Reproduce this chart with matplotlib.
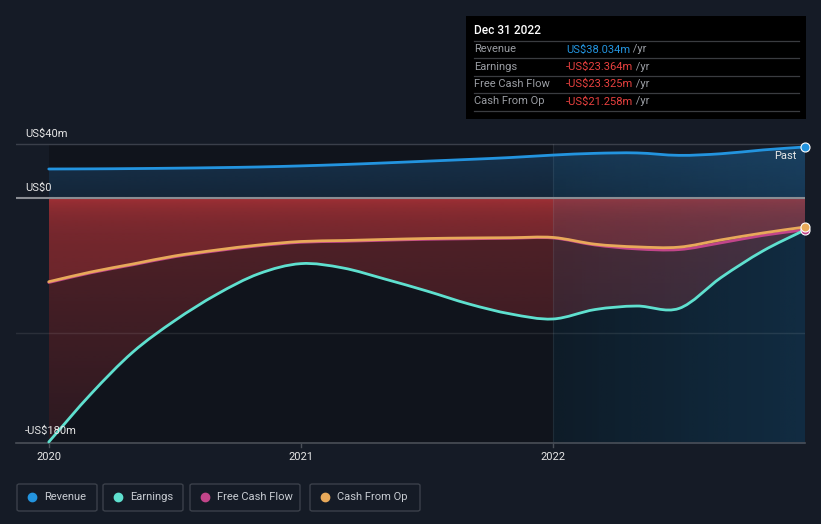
import numpy as np
import matplotlib
matplotlib.use("Agg")
import matplotlib.pyplot as plt
from matplotlib.patches import FancyBboxPatch, Rectangle, PathPatch
from matplotlib.path import Path
from matplotlib.lines import Line2D

plt.rcParams["font.family"] = ["Roboto", "DejaVu Sans"]

# ---- data (US$m, trailing twelve months) ----
years = [2020.000, 2020.167, 2020.333, 2020.500, 2020.667, 2020.833,
         2021.000, 2021.167, 2021.333, 2021.500, 2021.667, 2021.833,
         2022.000, 2022.167, 2022.333, 2022.500, 2022.667, 2022.833,
         2023.000]
revenue = [21.7, 21.8, 22.0, 22.3, 22.7, 23.2,
           24.0, 25.0, 26.2, 27.5, 28.8, 30.2,
           32.0, 33.3, 33.6, 31.8, 33.0, 35.8,
           38.034]
earnings = [-180.5, -145.0, -114.0, -90.6, -71.1, -55.9,
            -48.4, -51.6, -59.8, -68.7, -78.3, -85.7,
            -89.4, -82.4, -79.8, -81.6, -58.7, -39.0,
            -23.364]
free_cash_flow = [-62.4, -55.2, -49.3, -43.3, -38.9, -35.2,
                  -32.6, -31.9, -31.1, -30.4, -30.0, -29.6,
                  -29.4, -34.6, -37.5, -38.0, -33.0, -27.5,
                  -23.325]
cash_from_op = [-61.8, -54.6, -48.7, -42.7, -38.3, -34.6,
                -32.0, -31.3, -30.5, -29.8, -29.4, -29.2,
                -29.0, -34.0, -36.0, -36.2, -30.8, -25.7,
                -21.258]

tick_years = [2020, 2021, 2022]
tick_labels = ["2020", "2021", "2022"]
y_labels = [(40, "US$40m"), (0, "US$0"), (-180, "-US$180m")]
tooltip_rows = [("Revenue", "US$38.034m", "#2394df"),
                ("Earnings", "-US$23.364m", "#e8413f"),
                ("Free Cash Flow", "-US$23.325m", "#e8413f"),
                ("Cash From Op", "-US$21.258m", "#e8413f")]
legend_items = [("Revenue", "#2394df"), ("Earnings", "#5fe0cf"),
                ("Free Cash Flow", "#c2458a"), ("Cash From Op", "#e8a95a")]

BG = "#151b26"
W, H = 821, 524

fig = plt.figure(figsize=(W / 100, H / 100), dpi=100, facecolor=BG)


def fx(px):
    return px / W


def fy(py):
    return 1 - py / H


def curve(xs, ys):
    """Smooth Bezier path through the points (Catmull-Rom control points)."""
    pts = np.column_stack([np.asarray(xs, float), np.asarray(ys, float)])
    # reflected end points keep the end tangents along the first/last segment
    ext = np.vstack([2 * pts[0] - pts[1], pts, 2 * pts[-1] - pts[-2]])
    verts = [pts[0]]
    codes = [Path.MOVETO]
    for i in range(len(pts) - 1):
        p0, p1, p2, p3 = ext[i], ext[i + 1], ext[i + 2], ext[i + 3]
        verts += [p1 + (p2 - p0) / 6, p2 - (p3 - p1) / 6, p2]
        codes += [Path.CURVE4] * 3
    return verts, codes


def line_path(xs, ys):
    v, c = curve(xs, ys)
    return Path(v, c)


def area_path(xs, ys, base=0.0):
    v, c = curve(xs, ys)
    v = v + [(xs[-1], base), (xs[0], base), (xs[0], ys[0])]
    c = c + [Path.LINETO, Path.LINETO, Path.CLOSEPOLY]
    return Path(v, c)


def clipped_image(ax, rgba, extent, clip, z):
    patch = PathPatch(clip, facecolor="none", edgecolor="none")
    ax.add_patch(patch)
    im = ax.imshow(rgba, extent=extent, aspect="auto", zorder=z,
                   interpolation="bilinear")
    im.set_clip_path(patch)
    return im


# plot area: x 16..805 px, y 105..444 px
ax = fig.add_axes([fx(16), fy(444), fx(805 - 16), (444 - 105) / H])
ax.set_facecolor(BG)
x0, x1 = 2019.870, 2023.000
y0, y1 = -182.0, 69.1
ax.set_xlim(x0, x1)
ax.set_ylim(y0, y1)
for s in ax.spines.values():
    s.set_visible(False)
ax.set_xticks([])
ax.set_yticks([])

t = np.array(years)
rev = np.array(revenue)
earn = np.array(earnings)
N = 300

# darker chart body
ax.add_patch(Rectangle((2020, y0), 2.0, 40 - y0, facecolor="#10141c",
                       edgecolor="none", zorder=0))
under_rev = area_path(t, rev, base=y0)

# "past" underlay, below the revenue curve
h = np.linspace(0, 1, N)[None, :, None]
c_l = np.array([7, 14, 21]) / 255
c_r = np.array([6, 27, 44]) / 255
under = np.concatenate([c_l + (c_r - c_l) * h, np.ones((1, N, 1))], axis=2)
clipped_image(ax, under, [2022, x1, y0, 40], under_rev, 0.5)

# revenue area, alpha fades towards zero
yy = np.linspace(40, 0, N)
rv = np.zeros((N, 1, 4))
rv[..., :3] = np.array([30, 80, 125]) / 255
rv[:, 0, 3] = 0.3 + 0.22 * (yy / 40)
clipped_image(ax, rv, [2020, x1, 0, 40], area_path(t, rev), 1.0)

# red loss areas (earnings and cash flow) stacked, fading downwards
yn = np.linspace(0, y0, N)
red_rgb = np.array([170, 50, 55]) / 255
re = np.zeros((N, 1, 4))
re[..., :3] = red_rgb
re[:, 0, 3] = 0.18 + 0.27 * (1 + yn / 182)
clipped_image(ax, re, [2020, x1, y0, 0], area_path(t, earn), 1.1)
rc = np.zeros((N, 1, 4))
rc[..., :3] = red_rgb
rc[:, 0, 3] = 0.38 + 0.5 * np.exp(yn / 12)
clipped_image(ax, rc, [2020, x1, y0, 0], area_path(t, cash_from_op), 1.2)

# "past" light overlay on top of the fills
ov = np.zeros((1, N, 4))
ov[..., :3] = np.array([60, 110, 150]) / 255
ov[0, :, 3] = 0.15 + 0.06 * np.linspace(0, 1, N)
clipped_image(ax, ov, [2022, x1, y0, 40], under_rev, 1.5)

# grid and axis lines
ax.plot([x0, x1], [40, 40], color="#3a3f4a", lw=1, zorder=2)
ax.plot([x0, x1], [-100, -100], color="#ffffff", alpha=0.09, lw=1, zorder=2)
ax.plot([2022, 2022], [y0, 40], color="#ffffff", alpha=0.07, lw=0.9, zorder=2)
ax.plot([x0, x1], [0, 0], color="#8a8d93", lw=1.5, zorder=2)
ax.plot([x0, x1], [y0 + 0.6, y0 + 0.6], color="#4a4f58", lw=1.2, zorder=2,
        clip_on=False)
for ty in tick_years:
    ax.plot([ty, ty], [y0, y0 - 2.5], color="#4a4f58", lw=1, clip_on=False)

# series lines
series = [(free_cash_flow, "#c2458a", 2.9), (cash_from_op, "#e8a95a", 3.0),
          (earnings, "#5fe0cf", 3.1), (revenue, "#2394df", 3.2)]
for vals, col, z in series:
    ax.add_patch(PathPatch(line_path(t, vals), facecolor="none", edgecolor=col,
                           lw=2.0, zorder=z, capstyle="round"))

# end markers
for vals, col, z in [(revenue, "#2394df", 4), (free_cash_flow, "#c2458a", 4),
                     (cash_from_op, "#e8a95a", 4.1)]:
    ax.plot(t[-1], vals[-1], "o", ms=6.5, mfc=col, mec="white", mew=0.8,
            zorder=z, clip_on=False)
ax.text(2022.965, 31.5, "Past", color="#e8e8e8", fontsize=8, ha="right",
        va="center", zorder=5)

# y labels sit above their lines at left edge
for val, lab in y_labels:
    ax.text(2019.905, val + 4, lab, color="#e6e6e6", fontsize=8,
            ha="left", va="bottom", zorder=5)

# x labels
for ty, lab in zip(tick_years, tick_labels):
    fig.text(fx(48.7 + 252.3 * (ty - 2020)), fy(457), lab, color="#e6e6e6",
             fontsize=8, ha="center", va="center")

# tooltip
tip = fig.add_axes([fx(466), fy(119), fx(340), 103 / H])
tip.set_facecolor("black")
tip.set_xlim(466, 806)
tip.set_ylim(119, 16)
tip.set_xticks([])
tip.set_yticks([])
for s in tip.spines.values():
    s.set_visible(False)
tip.text(474, 31, "Dec 31 2022", color="white", fontsize=8.6, va="center",
         ha="left", fontweight="medium")
for ly in [41, 58, 75.5, 93, 111]:
    tip.plot([474, 799], [ly, ly], color="#3a3c40", lw=0.9)
for i, (lab, val, col) in enumerate(tooltip_rows):
    ry = 49.5 + 17.3 * i
    tip.text(474, ry, lab, color="#9a9da3", fontsize=8, va="center", ha="left")
    vt = tip.text(566, ry, val, color=col, fontsize=8, va="center", ha="left")
    tip.annotate(" /yr", xy=(1, 0.5), xycoords=vt, color="#9a9da3",
                 fontsize=8, va="center", ha="left")

# legend boxes
boxes = [(17, 97), (103, 183), (190, 300), (310, 420)]
for (lab, col), (bl, br) in zip(legend_items, boxes):
    fig.patches.append(FancyBboxPatch(
        (fx(bl), fy(511)), fx(br - bl), (511 - 484) / H,
        boxstyle="round,pad=0,rounding_size=0.003", transform=fig.transFigure,
        facecolor=BG, edgecolor="#3b404a", lw=1))
    fig.add_artist(Line2D([fx(bl + 15)], [fy(497)], marker="o", ms=6,
                          mfc=col, mec=col, transform=fig.transFigure))
    fig.text(fx(bl + 27), fy(497), lab, color="#c8ccd2", fontsize=8,
             va="center", ha="left")

fig.savefig("out.png", dpi=100, facecolor=BG)
